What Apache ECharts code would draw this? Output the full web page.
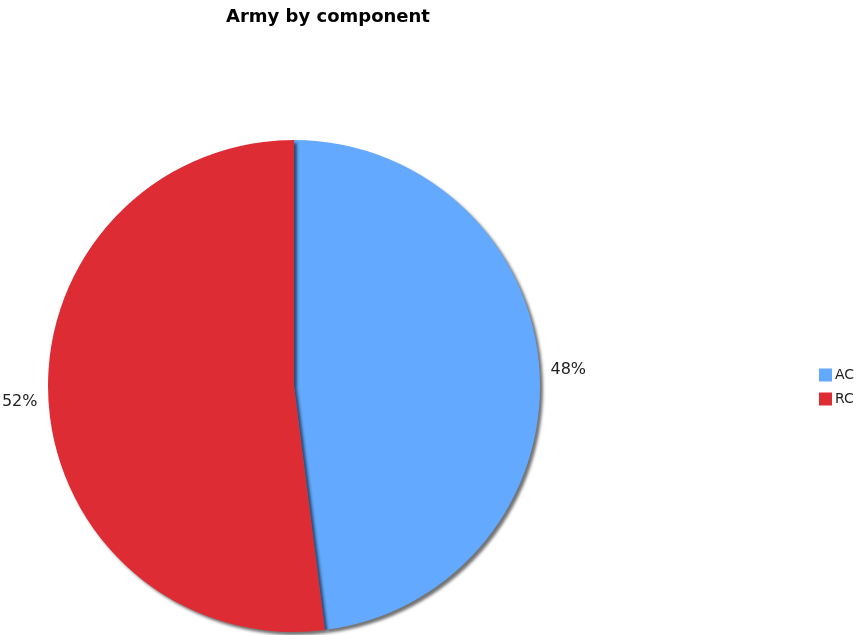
<!DOCTYPE html>
<html>
<head>
<meta charset="utf-8">
<script src="https://cdn.jsdelivr.net/npm/echarts@6/dist/echarts.min.js"></script>
<style>
  html, body { margin: 0; padding: 0; background: #fff; }
  #chart { width: 859px; height: 635px; }
</style>
</head>
<body>
<div id="chart"></div>
<script>
// Army strength split by component
const components = ['AC', 'RC'];
const shares = [48, 52];
const colors = ['#63A9FF', '#DD2C34'];

const chart = echarts.init(document.getElementById('chart'), null, { renderer: 'canvas' });

chart.setOption({
  animation: false,
  backgroundColor: '#ffffff',
  title: {
    text: 'Army by component',
    left: 323,
    textAlign: 'center',
    top: 3,
    textStyle: { fontFamily: 'DejaVu Sans', fontWeight: 'bold', fontSize: 18, color: '#000' }
  },
  legend: {
    orient: 'vertical',
    left: 814,
    top: 363,
    itemWidth: 13,
    itemHeight: 13,
    itemGap: 10,
    icon: 'rect',
    textStyle: { fontFamily: 'DejaVu Sans', fontSize: 14, color: '#222', padding: [0, 0, 0, -2] },
    data: components
  },
  series: [{
    type: 'pie',
    center: [294, 386],
    radius: 246,
    startAngle: 90,
    clockwise: true,
    color: colors,
    avoidLabelOverlap: false,
    itemStyle: {
      shadowColor: 'rgba(0,0,0,0.55)',
      shadowBlur: 3,
      shadowOffsetX: 3,
      shadowOffsetY: 3
    },
    label: {
      show: true,
      position: 'outside',
      formatter: '{d}%',
      fontFamily: 'DejaVu Sans',
      fontSize: 16,
      color: '#222',
      overflow: 'none'
    },
    labelLine: { show: false, length: 4, length2: 2 },
    emphasis: { disabled: true },
    data: components.map((name, i) => ({ name, value: shares[i] }))
  }]
});
</script>
</body>
</html>
